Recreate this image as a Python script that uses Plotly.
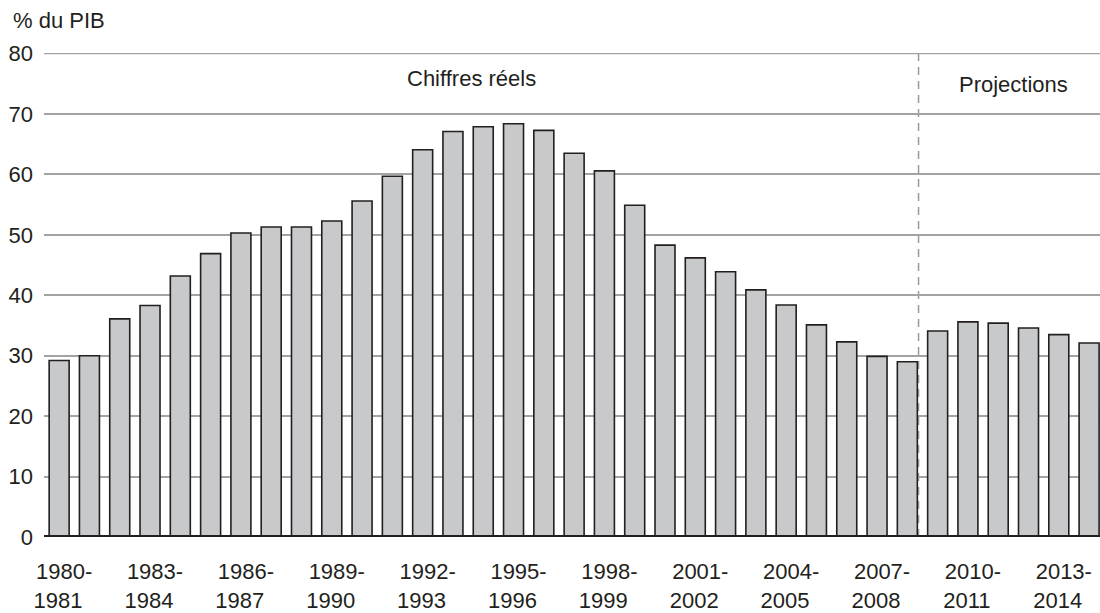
import plotly.graph_objects as go

# Data
start_years = list(range(1980, 2015))
periods = [f"{y}-{y+1}" for y in start_years]
values = [29.2, 30.0, 36.1, 38.3, 43.2, 46.9, 50.3, 51.3, 51.3, 52.3,
          55.6, 59.7, 64.1, 67.1, 67.9, 68.4, 67.3, 63.5, 60.6, 54.9,
          48.3, 46.2, 43.9, 40.9, 38.4, 35.1, 32.3, 29.9, 29.0, 34.1,
          35.6, 35.4, 34.6, 33.5, 32.1]
tick_periods = periods[::3]
tick_labels = [p.split("-")[0] + "-<br>" + p.split("-")[1] + "\u00a0\u00a0" for p in tick_periods]
y_ticks = [0, 10, 20, 30, 40, 50, 60, 70, 80]
section_labels = ["Chiffres réels", "Projections"]
y_title = "% du PIB"

TXT = "#231f20"
FONT = "Liberation Sans, Arial, Helvetica, sans-serif"
FS = 22

fig = go.Figure()
fig.add_trace(go.Bar(
    x=periods, y=values,
    width=0.66,
    marker=dict(color="#c8c9cb", line=dict(color="#231f20", width=1.6)),
    showlegend=False,
    hoverinfo="skip",
))

# dashed separator between actuals and projections
fig.add_shape(type="line", xref="x", yref="y", x0=28.37, x1=28.37, y0=0, y1=80,
              line=dict(color="#9a9a9a", width=1.5, dash="8px,6px"), layer="below")
# top gridline
fig.add_shape(type="line", xref="paper", yref="y", x0=0, x1=1, y0=80, y1=80,
              line=dict(color="#a3a3a3", width=1.5), layer="below")
# thick zero line
fig.add_shape(type="line", xref="paper", yref="y", x0=0, x1=1, y0=0, y1=0,
              line=dict(color="#231f20", width=4), layer="above")

fig.add_annotation(x=13.6, y=75.9, xref="x", yref="y", text=section_labels[0],
                   showarrow=False, font=dict(size=FS, color=TXT, family=FONT))
fig.add_annotation(x=31.5, y=74.9, xref="x", yref="y", text=section_labels[1],
                   showarrow=False, font=dict(size=FS, color=TXT, family=FONT))
fig.add_annotation(x=-33/1056, y=(537-20.5)/483.6, xref="paper", yref="paper", text=y_title,
                   showarrow=False, xanchor="left", yanchor="middle",
                   font=dict(size=FS, color=TXT, family=FONT))

fig.update_layout(
    width=1100, height=613,
    margin=dict(l=44, r=0, t=53, b=76, autoexpand=False),
    plot_bgcolor="white", paper_bgcolor="white",
    font=dict(family=FONT, size=FS, color=TXT),
    hovermode=False,
    xaxis=dict(
        type="category",
        range=[-0.5, 34.36],
        tickmode="array", tickvals=tick_periods, ticktext=tick_labels,
        ticks="", showgrid=False, zeroline=False, showline=False,
        tickangle=0, ticklabelstandoff=19, ticklabelshift=5,
        automargin=False,
        tickfont=dict(size=FS, color=TXT, family=FONT),
    ),
    yaxis=dict(
        range=[0, 80.1],
        tickmode="array", tickvals=y_ticks,
        showgrid=True, gridcolor="#a3a3a3", gridwidth=1.5,
        zeroline=False, showline=False, ticks="",
        ticklabelstandoff=10, automargin=False,
        tickfont=dict(size=FS, color=TXT, family=FONT),
    ),
)

fig.write_html("out.html",
               config={"displayModeBar": False},
               post_script="document.body.style.margin='0';document.body.style.overflow='hidden';")
